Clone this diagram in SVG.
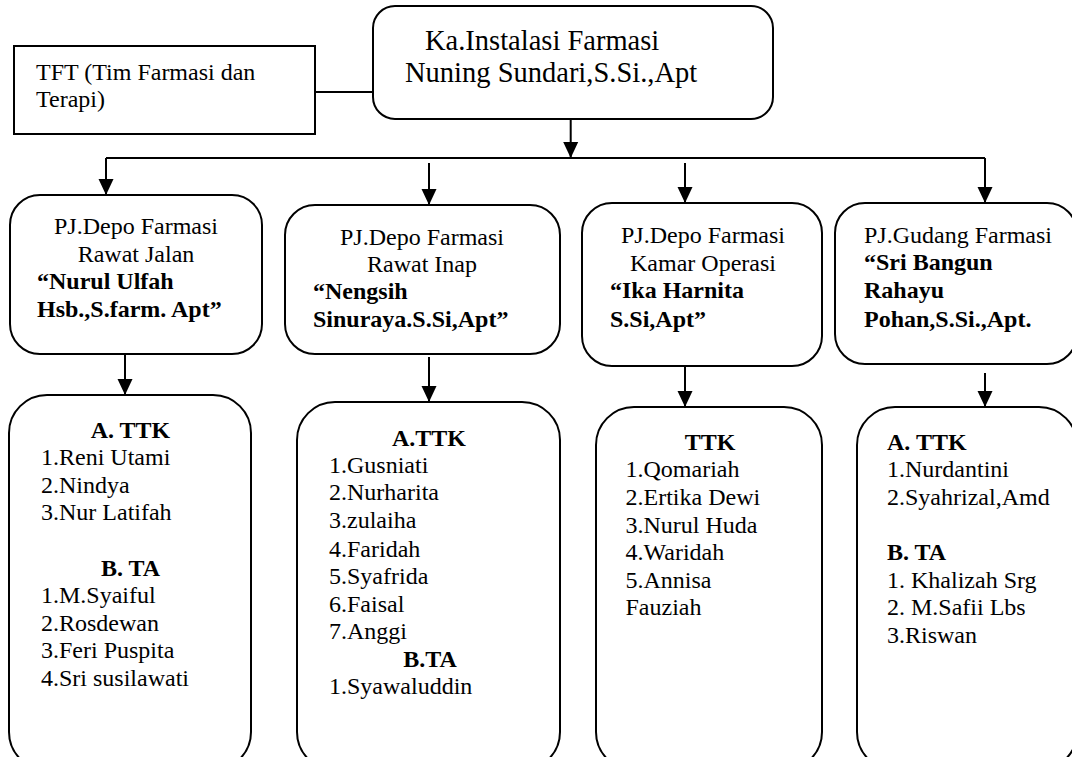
<svg xmlns="http://www.w3.org/2000/svg" width="1072" height="757" viewBox="0 0 1072 757">
<defs>
<style>
.box{fill:#fff;stroke:#000;stroke-width:2}
.ln{fill:none;stroke:#000;stroke-width:2}
.ar{fill:none;stroke:#000;stroke-width:2;marker-end:url(#ah)}
text{font-family:'Liberation Serif','Times New Roman',Times,'DejaVu Serif',serif;font-size:24px;fill:#000}
.b{font-weight:bold}
.c{text-anchor:middle}
.h{font-size:28.5px}
</style>
<marker id="ah" viewBox="0 0 16 16" refX="16" refY="8" markerWidth="16" markerHeight="16" orient="auto" markerUnits="userSpaceOnUse"><path d="M0,0.5 L16,8 L0,15.5 Z" fill="#000"/></marker>
</defs>
<rect width="1072" height="757" fill="#fff"/>
<g id="connectors">
<path class="ln" d="M315,92 H373"/>
<path class="ar" d="M570.7,119 V158"/>
<path class="ln" d="M106,158 H985"/>
<path class="ar" d="M106,158 V195"/>
<path class="ar" d="M429,163 V205"/>
<path class="ar" d="M685,163 V203"/>
<path class="ar" d="M985,158 V203"/>
<path class="ar" d="M125,354 V395"/>
<path class="ar" d="M429,357 V402"/>
<path class="ar" d="M685,366 V407"/>
<path class="ar" d="M985,373 V407"/>
</g>
<g id="tft">
<rect class="box" x="14" y="46" width="301" height="88"/>
<text x="36" y="80">TFT (Tim Farmasi dan</text>
<text x="36" y="107">Terapi)</text>
</g>
<g id="kepala">
<rect class="box" x="373" y="6" width="400" height="113" rx="22"/>
<text class="h" x="425" y="50">Ka.Instalasi Farmasi</text>
<text class="h" x="405" y="82">Nuning Sundari,S.Si.,Apt</text>
</g>
<g id="depo-rawat-jalan">
<rect class="box" x="10" y="195" width="252" height="159" rx="30"/>
<text class="c" x="136" y="234">PJ.Depo Farmasi</text>
<text class="c" x="136" y="262">Rawat Jalan</text>
<text class="b" x="37" y="289">“Nurul Ulfah</text>
<text class="b" x="37" y="317">Hsb.,S.farm. Apt”</text>
</g>
<g id="depo-rawat-inap">
<rect class="box" x="285" y="205" width="275" height="149" rx="30"/>
<text class="c" x="422" y="245">PJ.Depo Farmasi</text>
<text class="c" x="422" y="272">Rawat Inap</text>
<text class="b" x="313" y="299">“Nengsih</text>
<text class="b" x="313" y="327">Sinuraya.S.Si,Apt”</text>
</g>
<g id="depo-kamar-operasi">
<rect class="box" x="582" y="203" width="240" height="163" rx="30"/>
<text class="c" x="703" y="243">PJ.Depo Farmasi</text>
<text class="c" x="703" y="271">Kamar Operasi</text>
<text class="b" x="610" y="298">“Ika Harnita</text>
<text class="b" x="610" y="327">S.Si,Apt”</text>
</g>
<g id="gudang-farmasi">
<rect class="box" x="835" y="203" width="242" height="161" rx="30"/>
<text x="864" y="243">PJ.Gudang Farmasi</text>
<text class="b" x="864" y="270">“Sri Bangun</text>
<text class="b" x="864" y="298">Rahayu</text>
<text class="b" x="864" y="327">Pohan,S.Si.,Apt.</text>
</g>
<g id="staf-rawat-jalan">
<rect class="box" x="9" y="395" width="242" height="375" rx="38"/>
<text class="b c" x="130.5" y="438">A. TTK</text>
<text x="41" y="465">1.Reni Utami</text>
<text x="41" y="493">2.Nindya</text>
<text x="41" y="520">3.Nur Latifah</text>
<text class="b c" x="130.5" y="576">B. TA</text>
<text x="41" y="603">1.M.Syaiful</text>
<text x="41" y="631">2.Rosdewan</text>
<text x="41" y="658">3.Feri Puspita</text>
<text x="41" y="686">4.Sri susilawati</text>
</g>
<g id="staf-rawat-inap">
<rect class="box" x="297" y="402" width="263" height="368" rx="38"/>
<text class="b c" x="429" y="446">A.TTK</text>
<text x="329" y="473">1.Gusniati</text>
<text x="329" y="500">2.Nurharita</text>
<text x="329" y="528">3.zulaiha</text>
<text x="329" y="557">4.Faridah</text>
<text x="329" y="584">5.Syafrida</text>
<text x="329" y="612">6.Faisal</text>
<text x="329" y="639">7.Anggi</text>
<text class="b c" x="430" y="667">B.TA</text>
<text x="329" y="694">1.Syawaluddin</text>
</g>
<g id="staf-kamar-operasi">
<rect class="box" x="596" y="407" width="226" height="363" rx="38"/>
<text class="b c" x="710" y="450">TTK</text>
<text x="625.5" y="477">1.Qomariah</text>
<text x="625.5" y="505">2.Ertika Dewi</text>
<text x="625.5" y="533">3.Nurul Huda</text>
<text x="625.5" y="560">4.Waridah</text>
<text x="625.5" y="588">5.Annisa</text>
<text x="625.5" y="615">Fauziah</text>
</g>
<g id="staf-gudang">
<rect class="box" x="857" y="407" width="220" height="363" rx="38"/>
<text class="b" x="887" y="450">A. TTK</text>
<text x="887" y="477">1.Nurdantini</text>
<text x="887" y="505">2.Syahrizal,Amd</text>
<text class="b" x="887" y="560">B. TA</text>
<text x="887" y="588">1. Khalizah Srg</text>
<text x="887" y="615">2. M.Safii Lbs</text>
<text x="887" y="643">3.Riswan</text>
</g>
</svg>
